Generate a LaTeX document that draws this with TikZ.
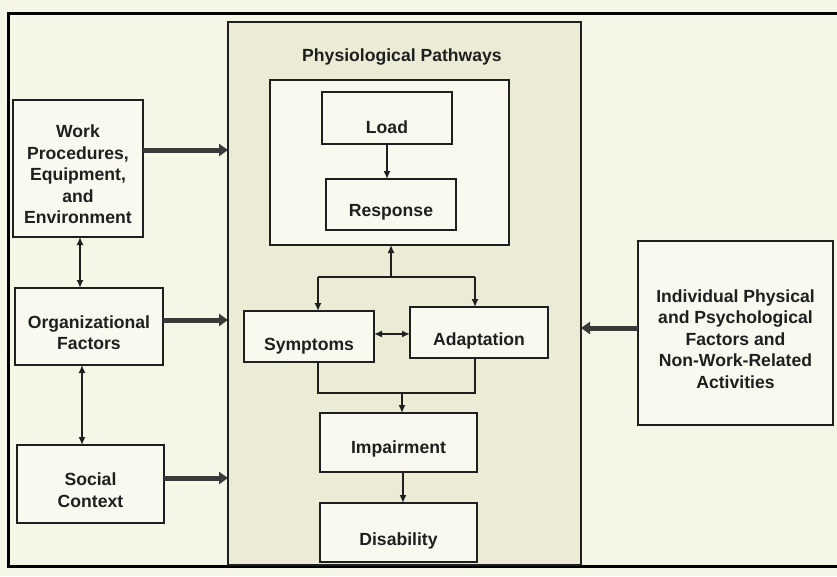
\documentclass[tikz,border=0pt]{standalone}
\usepackage{fontspec}
\setmainfont{Liberation Sans}
\usetikzlibrary{arrows.meta}
\definecolor{bgc}{HTML}{F6F6E6}
\definecolor{midc}{HTML}{ECECD6}
\definecolor{boxc}{HTML}{F9F9EF}
\definecolor{ink}{HTML}{1F1F1F}
\definecolor{arrowc}{HTML}{3A3A3A}
\tikzset{
  box/.style={draw=ink, line width=1.8pt, fill=boxc, inner sep=0pt, outer sep=0pt},
  lbl/.style={font=\bfseries\fontsize{17.6}{21.5}\selectfont, text=ink, align=center, inner sep=0pt},
  plainline/.style={draw=ink, line width=1.5pt},
  onearrow/.style={draw=ink, line width=1.5pt, -{Latex[length=8pt,width=7pt]}},
  twoarrow/.style={draw=ink, line width=1.5pt, {Latex[length=8pt,width=7pt]}-{Latex[length=8pt,width=7pt]}},
  bigarrow/.style={draw=arrowc, line width=5pt, -{Triangle[length=9pt,width=12pt]}}
}
\begin{document}
\begin{tikzpicture}[x=1pt,y=-1pt]
\useasboundingbox (0,0) rectangle (837,576);
\fill[bgc] (0,0) rectangle (837,576);
% outer frame
\draw[line width=3pt, black] (842,13) -- (8,13) -- (8,566) -- (842,566);
% central box
\node[box, fill=midc, minimum width=353pt, minimum height=543pt] (phys) at (404.5,293.5) {};
\node[lbl] (physt) at (402,57) {Physiological Pathways};
% inner box
\node[box, minimum width=239pt, minimum height=165pt] (inner) at (389.5,162.5) {};
\node[box, minimum width=130pt, minimum height=52pt] (load) at (387,118) {};
\node[lbl] (loadt) at ([yshift=-9pt]load.center) {Load};
\node[box, minimum width=130pt, minimum height=51pt] (resp) at (391,204.5) {};
\node[lbl] (respt) at ([yshift=-8pt]resp.center) {Response};
\node[box, minimum width=130pt, minimum height=51pt] (sym) at (309,336.5) {};
\node[lbl] (symt) at ([yshift=-10pt]sym.center) {Symptoms};
\node[box, minimum width=138pt, minimum height=51pt] (adp) at (479,332.5) {};
\node[lbl] (adpt) at ([yshift=-8pt]adp.center) {Adaptation};
\node[box, minimum width=157pt, minimum height=59pt] (imp) at (398.5,442.5) {};
\node[lbl] (impt) at ([yshift=-6pt]imp.center) {Impairment};
\node[box, minimum width=157pt, minimum height=59pt] (dis) at (398.5,532.5) {};
\node[lbl] (dist) at ([yshift=-8pt]dis.center) {Disability};
% left boxes
\node[box, minimum width=130pt, minimum height=137pt] (work) at (78,168.5) {};
\node[lbl] (workt) at ([yshift=-6pt]work.center) {Work\\Procedures,\\Equipment,\\and\\Environment};
\node[box, minimum width=148pt, minimum height=77pt] (org) at (89,326.5) {};
\node[lbl] (orgt) at ([yshift=-6pt]org.center) {Organizational\\Factors};
\node[box, minimum width=147pt, minimum height=78pt] (soc) at (90.5,484) {};
\node[lbl] (soct) at ([yshift=-6pt]soc.center) {Social\\Context};
% right box
\node[box, minimum width=195pt, minimum height=184pt] (ind) at (735.5,333) {};
\node[lbl] (indt) at ([yshift=-6pt]ind.center) {Individual Physical\\and Psychological\\Factors and\\Non-Work-Related\\Activities};
% connectors inside
\draw[onearrow] (load.south) -- (load.south |- resp.north);
\coordinate (br) at (391,277);
\coordinate (bl) at (318,277);
\coordinate (brr) at (475,277);
\draw[onearrow] (br) -- (br |- inner.south);
\draw[plainline] (bl) -- (brr);
\draw[onearrow] (bl) -- (bl |- sym.north);
\draw[onearrow] (brr) -- (brr |- adp.north);
\coordinate (sa) at (392,334);
\draw[twoarrow] (sa -| sym.east) -- (sa -| adp.west);
\coordinate (ml) at (318,393);
\coordinate (mr) at (475,393);
\draw[plainline] (ml |- sym.south) -- (ml) -- (mr) -- (mr |- adp.south);
\coordinate (mg) at (402,393);
\draw[onearrow] (mg) -- (mg |- imp.north);
\coordinate (id) at (403,490);
\draw[onearrow] (id |- imp.south) -- (id |- dis.north);
% left connectors
\coordinate (wo) at (80,262);
\draw[twoarrow] (wo |- work.south) -- (wo |- org.north);
\coordinate (os) at (82,405);
\draw[twoarrow] (os |- org.south) -- (os |- soc.north);
\coordinate (a1) at (180,150);
\draw[bigarrow] (a1 -| work.east) -- (a1 -| phys.west);
\coordinate (a2) at (190,320);
\draw[bigarrow] (a2 -| org.east) -- (a2 -| phys.west);
\coordinate (a3) at (190,478);
\draw[bigarrow] (a3 -| soc.east) -- (a3 -| phys.west);
\coordinate (a4) at (610,328);
\draw[bigarrow] (a4 -| ind.west) -- (a4 -| phys.east);
\end{tikzpicture}
\end{document}
